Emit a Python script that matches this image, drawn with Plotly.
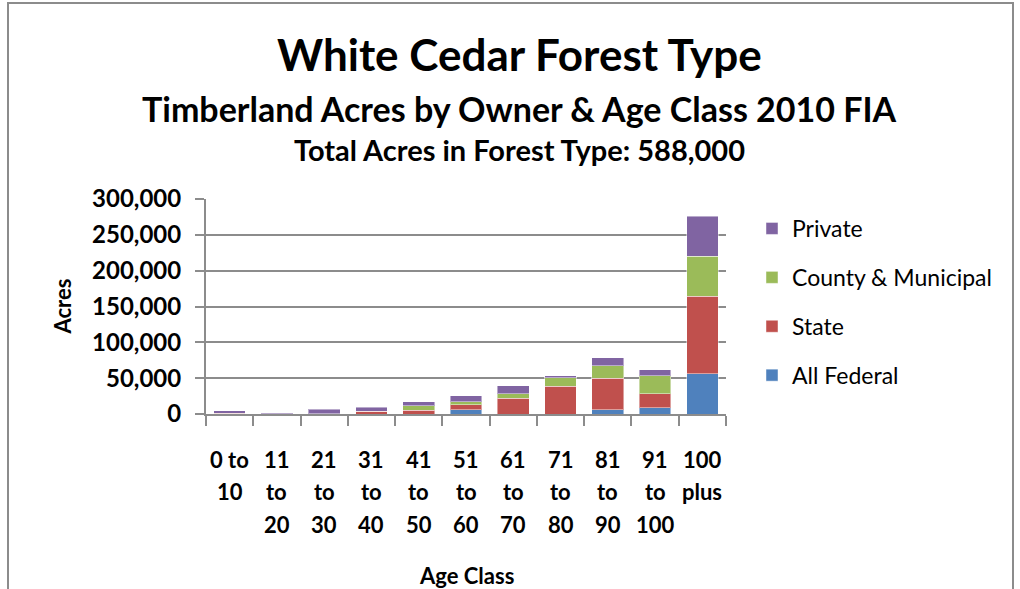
import plotly.graph_objects as go

# Age classes and their stacked acreage by owner group
age_classes = ["0 to 10", "11 to 20", "21 to 30", "31 to 40", "41 to 50", "51 to 60",
               "61 to 70", "71 to 80", "81 to 90", "91 to 100", "100 plus"]
tick_lines = [
    ["0 to", "10", ""],
    ["11", "to", "20"],
    ["21", "to", "30"],
    ["31", "to", "40"],
    ["41", "to", "50"],
    ["51", "to", "60"],
    ["61", "to", "70"],
    ["71", "to", "80"],
    ["81", "to", "90"],
    ["91", "to", "100"],
    ["100", "plus", ""],
]
all_federal = [0, 0, 0, 0, 0, 5600, 0, 0, 5600, 8800, 56000]
state = [800, 700, 0, 3700, 5100, 7500, 22000, 38700, 44300, 19200, 108000]
county_municipal = [0, 0, 600, 0, 6500, 4200, 6000, 11700, 17300, 25200, 56000]
private = [3400, 700, 5900, 5600, 5600, 8400, 11600, 2800, 11200, 8400, 56000]

# (name, values, colour, legend position from the top)
series = [
    ("All Federal", all_federal, "#4F81BD", 4),
    ("State", state, "#C0504D", 3),
    ("County & Municipal", county_municipal, "#9BBB59", 2),
    ("Private", private, "#8064A2", 1),
]

FONT = "Lato"
GRID = "#8c8c8c"

fig = go.Figure()
for name, vals, color, rank in series:
    fig.add_trace(go.Bar(
        x=age_classes, y=vals, name=name, legendgroup=name, legendrank=rank,
        marker=dict(color=color, line=dict(color="rgba(255,255,255,0.45)", width=1)),
    ))

annotations = []
# Multi-line category labels beneath the axis
for cat, lines in zip(age_classes, tick_lines):
    for i, line in enumerate(lines):
        if line:
            annotations.append(dict(
                x=cat, xref="x", y=0, yref="paper", yanchor="middle",
                yshift=-45 - 32.5 * i, text=line, showarrow=False,
                font=dict(family=FONT, size=22, color="black", weight="bold"),
            ))

# Titles
title_x = (519 - 206) / 520
for text, size, ypix in [
    ("White Cedar Forest Type", 44, 54),
    ("Timberland Acres by Owner & Age Class 2010 FIA", 34, 108),
    ("Total Acres in Forest Type: 588,000", 29, 150),
]:
    annotations.append(dict(
        x=title_x, xref="paper", y=(414 - ypix) / 215, yref="paper",
        xanchor="center", yanchor="middle", text=text, showarrow=False,
        font=dict(family=FONT, size=size, color="black", weight="bold"),
    ))

# Axis titles
annotations.append(dict(
    x=0.5, xref="paper", y=0, yref="paper", yanchor="middle", yshift=-161,
    text="Age Class", showarrow=False,
    font=dict(family=FONT, size=22, color="black", weight="bold"),
))
annotations.append(dict(
    x=0, xref="paper", xshift=-144, y=0.5, yref="paper",
    xanchor="center", yanchor="middle", textangle=-90,
    text="Acres", showarrow=False,
    font=dict(family=FONT, size=22, color="black", weight="bold"),
))

fig.update_layout(
    width=1020, height=589,
    margin=dict(l=206, r=294, t=199, b=175),
    paper_bgcolor="white", plot_bgcolor="white",
    barmode="stack", bargap=0.33,
    showlegend=True,
    legend=dict(
        x=(752 - 206) / 520, xanchor="left", y=(414 - 207) / 215, yanchor="top",
        traceorder="grouped", tracegroupgap=16,
        font=dict(family=FONT, size=23, color="black"),
        bgcolor="rgba(0,0,0,0)",
    ),
    xaxis=dict(
        showticklabels=False, tickson="boundaries", ticks="outside",
        ticklen=10, tickwidth=2, tickcolor=GRID,
        showline=True, linecolor=GRID, linewidth=2,
        showgrid=False,
    ),
    yaxis=dict(
        range=[0, 300000], dtick=50000, tickformat=",d",
        ticks="outside", ticklen=9, tickwidth=2, tickcolor=GRID,
        ticklabelstandoff=9,
        showline=True, linecolor=GRID, linewidth=2,
        showgrid=True, gridcolor=GRID, gridwidth=2,
        zeroline=False,
        tickfont=dict(family=FONT, size=24, color="black", weight="bold"),
    ),
    annotations=annotations,
    shapes=[dict(
        type="rect", xref="paper", yref="paper",
        x0=(8 - 206) / 520, x1=(1013 - 206) / 520,
        y0=(414 - 620) / 215, y1=(414 - 3) / 215,
        line=dict(color="#8c8c8c", width=2), fillcolor="rgba(0,0,0,0)",
        layer="below",
    )],
)

fig.write_html("out.html")
